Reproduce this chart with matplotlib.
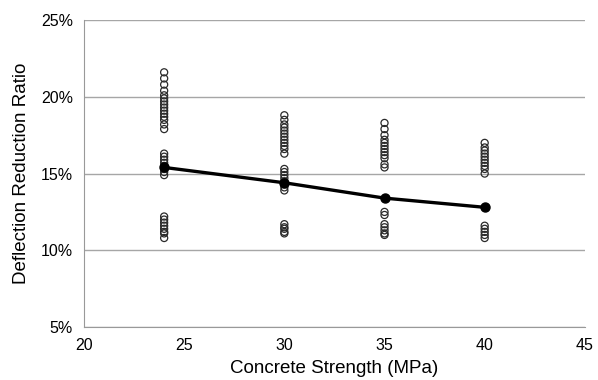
import matplotlib
matplotlib.use("Agg")
import matplotlib.pyplot as plt

plt.rcParams["font.family"] = ["Liberation Sans", "DejaVu Sans"]

# scatter data (percent), one list per concrete strength
strengths = [24, 30, 35, 40]
ratios_24 = [21.6, 21.2, 20.8, 20.4, 20.1, 19.9, 19.7, 19.5, 19.3, 19.1, 18.9,
             18.7, 18.5, 18.2, 17.9,
             16.3, 16.1, 15.9, 15.7, 15.5, 15.3, 15.1, 14.9,
             12.2, 12.0, 11.8, 11.6, 11.4, 11.2, 11.1, 10.8]
ratios_30 = [18.8, 18.5, 18.2, 18.0, 17.8, 17.6, 17.4, 17.2, 17.0, 16.8, 16.6, 16.3,
             15.3, 15.1, 14.9, 14.7, 14.5, 14.3, 14.1, 13.9,
             11.7, 11.5, 11.4, 11.2, 11.1]
ratios_35 = [18.3, 17.9, 17.5, 17.2, 17.0, 16.8, 16.6, 16.4, 16.2, 16.0, 15.6, 15.4,
             12.5, 12.3,
             11.7, 11.5, 11.3, 11.1, 11.0]
ratios_40 = [17.0, 16.7, 16.5, 16.3, 16.1, 15.9, 15.7, 15.5, 15.3, 15.0,
             11.6, 11.4, 11.2, 11.0, 10.8]
mean_ratio = [15.4, 14.4, 13.4, 12.8]

x_ticks = [20, 25, 30, 35, 40, 45]
y_ticks = [5, 10, 15, 20, 25]

fig = plt.figure(figsize=(5.98, 3.8), dpi=100)
ax = fig.add_axes([0.1405, 0.1395, 0.8375, 0.8075])

for s, vals in zip(strengths, [ratios_24, ratios_30, ratios_35, ratios_40]):
    ax.scatter([s] * len(vals), [v / 100 for v in vals], s=26, facecolors="none",
               edgecolors="#2a2a2a", linewidths=0.9, zorder=3)

ax.plot(strengths, [v / 100 for v in mean_ratio], "o-", color="black",
        lw=2.4, ms=6.5, zorder=4)

ax.set_xlim(20, 45)
ax.set_ylim(0.05, 0.25)
ax.set_xticks(x_ticks)
ax.set_yticks([y / 100 for y in y_ticks])
ax.set_yticklabels([f"{y}%" for y in y_ticks])
ax.grid(True, axis="y", color="#a6a6a6", lw=1)
ax.set_axisbelow(True)
for side in ["top", "right"]:
    ax.spines[side].set_visible(False)
for side in ["left", "bottom"]:
    ax.spines[side].set_color("#999999")
ax.tick_params(length=0, labelsize=11.5, pad=8)
ax.set_xlabel("Concrete Strength (MPa)", fontsize=13.5, labelpad=5)
ax.set_ylabel("Deflection Reduction Ratio", fontsize=13.5, labelpad=8)

fig.savefig("out.png", dpi=100)
